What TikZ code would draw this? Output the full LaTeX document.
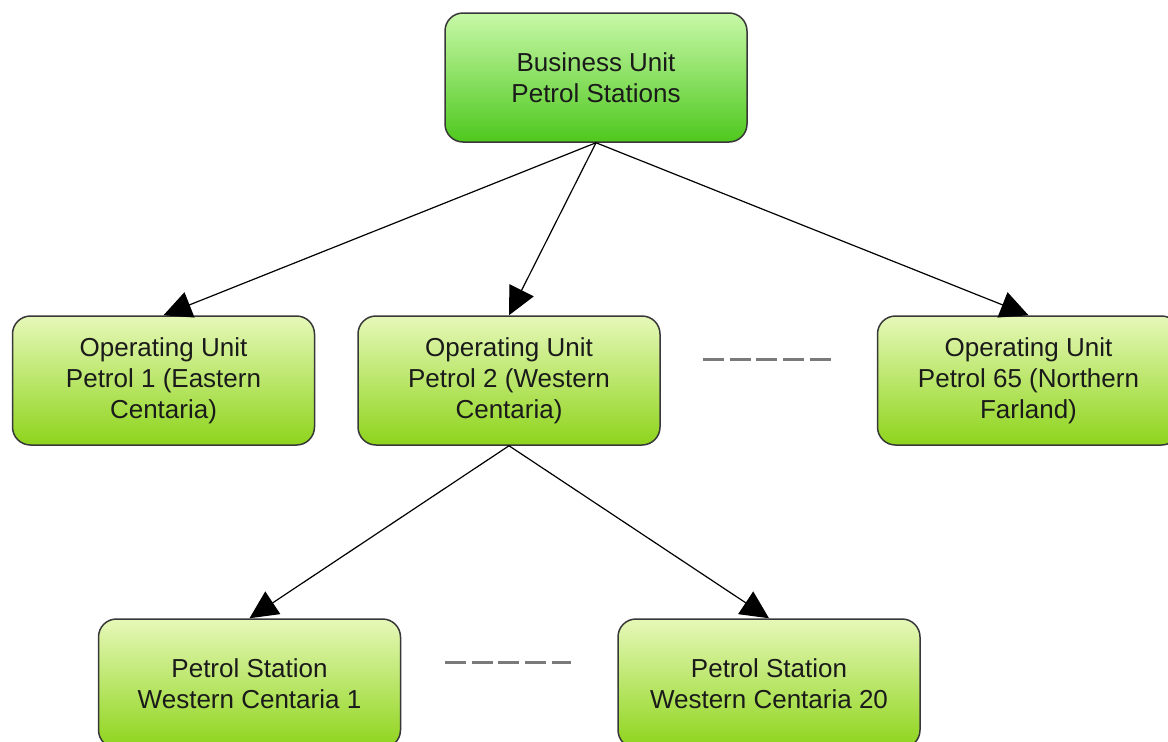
\documentclass[tikz,border=0pt]{standalone}
\usepackage{fontspec}
\setmainfont{Liberation Sans}
\usetikzlibrary{arrows.meta}
\definecolor{bordergray}{HTML}{383838}
\definecolor{butop}{HTML}{C8F8A8}
\definecolor{bubot}{HTML}{4EC81E}
\definecolor{outop}{HTML}{E6F8B8}
\definecolor{oubot}{HTML}{8ED41C}
\definecolor{textdark}{HTML}{1A1A1A}
\definecolor{dashgray}{HTML}{7A7A7A}
\tikzset{
  box/.style={draw=bordergray, line width=1.5pt, rounded corners=18pt,
    minimum width=302pt, minimum height=129pt, align=center,
    text=textdark, font=\fontsize{26}{31}\selectfont},
  bubox/.style={box, top color=butop, bottom color=bubot},
  oubox/.style={box, top color=outop, bottom color=oubot},
  conn/.style={line width=1.2pt, draw=black, -{Triangle[length=28pt,width=27pt]}},
  ellip/.style={draw=dashgray, line width=3pt, dash pattern=on 21pt off 5.7pt}
}
\begin{document}
\begin{tikzpicture}[x=1pt,y=-1pt]
\useasboundingbox[fill=white] (0,0) rectangle (1168,742);
\node[bubox] (bu) at (596,77.5) {Business Unit\\Petrol Stations};
\node[oubox] (ou1) at (163.5,380.5) {Operating Unit\\Petrol 1 (Eastern\\Centaria)};
\node[oubox] (ou2) at (509,380.5) {Operating Unit\\Petrol 2 (Western\\Centaria)};
\node[oubox] (ou65) at (1028.5,380.5) {Operating Unit\\Petrol 65 (Northern\\Farland)};
\node[oubox] (ps1) at (249.5,683.5) {Petrol Station\\Western Centaria 1};
\node[oubox] (ps20) at (769,683.5) {Petrol Station\\Western Centaria 20};
\draw[conn] (bu.south) -- (ou1.north);
\draw[conn] (bu.south) -- (ou2.north);
\draw[conn] (bu.south) -- (ou65.north);
\draw[conn] (ou2.south) -- (ps1.north);
\draw[conn] (ou2.south) -- (ps20.north);
\coordinate (d1a) at (703,359);
\coordinate (d1b) at (832,359);
\coordinate (d2a) at (445,662);
\coordinate (d2b) at (571,662);
\draw[ellip] (d1a) -- (d1b);
\draw[ellip] (d2a) -- (d2b);
\end{tikzpicture}
\end{document}
